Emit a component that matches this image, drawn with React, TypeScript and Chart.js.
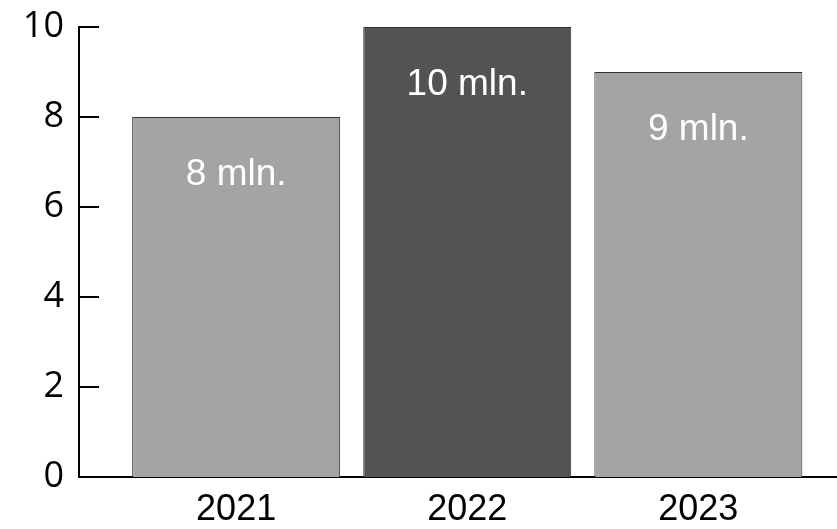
import React, { useEffect, useRef } from "react";
import { Chart, registerables } from "chart.js";

Chart.register(...registerables);

const years = ["2021", "2022", "2023"];
const values = [8, 10, 9];
const valueLabels = ["8 mln.", "10 mln.", "9 mln."];
const barColors = ["#a4a4a4", "#535353", "#a4a4a4"];
const yTicks = [0, 2, 4, 6, 8, 10];

const innerTicksPlugin = {
  id: "innerTicks",
  afterDraw(chart: any) {
    const ctx = chart.ctx;
    const y = chart.scales.y;
    ctx.save();
    ctx.strokeStyle = "#000";
    ctx.lineWidth = 2;
    yTicks.forEach((t) => {
      const py = Math.round(y.getPixelForValue(t));
      ctx.beginPath();
      ctx.moveTo(chart.chartArea.left, py);
      ctx.lineTo(chart.chartArea.left + 20, py);
      ctx.stroke();
    });
    ctx.restore();
  },
};

const barLabelsPlugin = {
  id: "barLabels",
  afterDatasetsDraw(chart: any) {
    const ctx = chart.ctx;
    const meta = chart.getDatasetMeta(0);
    ctx.save();
    ctx.fillStyle = "#ffffff";
    ctx.font = "37px 'Liberation Sans', Arial, sans-serif";
    ctx.textAlign = "center";
    ctx.textBaseline = "middle";
    meta.data.forEach((bar: any, i: number) => {
      ctx.fillText(valueLabels[i], bar.x, bar.y + 58);
    });
    ctx.restore();
  },
};

export default function App() {
  const ref = useRef<HTMLCanvasElement>(null);
  useEffect(() => {
    document.body.style.margin = "0";
    const chart = new Chart(ref.current!, {
      type: "bar",
      data: {
        datasets: [
          {
            data: values.map((v, i) => ({ x: i, y: v })),
            backgroundColor: barColors,
            borderColor: "#333333",
            borderWidth: 1,
            categoryPercentage: 1,
            barPercentage: 0.9,
          },
        ],
      },
      options: {
        animation: false,
        responsive: false,
        devicePixelRatio: 1,
        layout: { padding: 0 },
        plugins: { legend: { display: false }, tooltip: { enabled: false } },
        scales: {
          x: {
            type: "linear",
            min: -0.68,
            max: 2.6,
            offset: false,
            afterBuildTicks: (s: any) => {
              s.ticks = years.map((_, i) => ({ value: i }));
            },
            afterFit: (s: any) => {
              s.height = 52;
            },
            ticks: {
              autoSkip: false,
              maxRotation: 0,
              color: "#000",
              padding: 11,
              font: { family: "'Liberation Sans', Arial, sans-serif", size: 36 },
              callback: (v: any) => years[v as number] ?? "",
            },
            grid: { display: false, drawTicks: false, offset: false },
            border: { display: true, color: "#000", width: 2 },
          },
          y: {
            min: 0,
            max: 10,
            afterBuildTicks: (s: any) => {
              s.ticks = yTicks.map((v) => ({ value: v }));
            },
            afterFit: (s: any) => {
              s.width = 79;
            },
            ticks: {
              color: "#000",
              padding: 15,
              font: { family: "'Open Sans', 'Noto Sans', sans-serif", size: 36, lineHeight: 0.67 },
            },
            grid: { display: false, drawTicks: false },
            border: { display: true, color: "#000", width: 2 },
          },
        },
      },
      plugins: [innerTicksPlugin, barLabelsPlugin],
    });
    return () => chart.destroy();
  }, []);
  return <canvas ref={ref} width={837} height={529} style={{ display: "block" }} />;
}
